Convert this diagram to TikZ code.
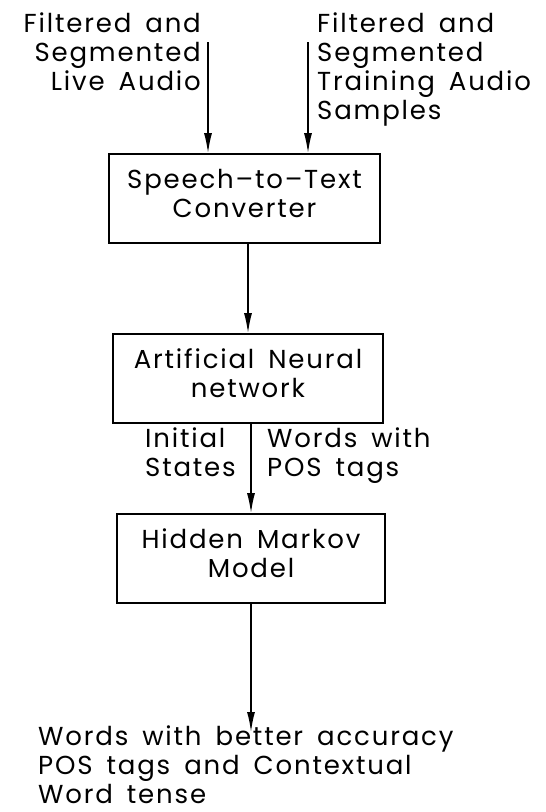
\documentclass[tikz,border=0pt]{standalone}
\usepackage{fontspec}
\setmainfont[WordSpace=1.6, LetterSpace=7]{Poppins}
\usetikzlibrary{arrows.meta}
\begin{document}
\begin{tikzpicture}[x=1pt,y=-1pt,
  every node/.style={inner sep=0pt, font=\fontsize{26}{29}\selectfont},
  stage/.style={draw, line width=1.6pt, align=center, text depth=10pt,
    minimum width=#1, minimum height=89pt},
  arr/.style={line width=1.6pt, -{Latex[length=20pt,width=8pt]}},
  lbl/.style={align=#1}]
  \useasboundingbox (0,0) rectangle (546,812);

  % processing stages
  \node[stage=271pt] (stt) at (244.5,198.5) {Speech–to–Text\\Converter};
  \node[stage=270pt] (ann) at (248,378.5) {Artificial Neural\\network};
  \node[stage=268pt] (hmm) at (251,558.5) {Hidden Markov\\Model};

  % inputs
  \node[lbl=right, anchor=north east] (live) at (201,13) {Filtered and\\Segmented\\Live Audio};
  \node[lbl=left, anchor=north west] (train) at (317,13) {Filtered and\\Segmented\\Training Audio\\Samples};
  \coordinate (liveS) at (208,42);
  \coordinate (trainS) at (308,42);

  % labels between ANN and HMM
  \node[lbl=left, anchor=north west] (init) at (145,428) {Initial\\States};
  \node[lbl=left, anchor=north west] (words) at (267,428) {Words with\\POS tags};

  % output
  \node[lbl=left, anchor=north west] (out) at (38,726) {Words with better accuracy\\POS tags and Contextual\\Word tense};

  % connectors
  \draw[arr] (liveS) -- (liveS |- stt.north);
  \draw[arr] (trainS) -- (trainS |- stt.north);
  \draw[arr] (stt.south -| ann.north) -- (ann.north);
  \draw[arr] (ann.south -| hmm.north) -- (hmm.north);
  \draw[arr] (hmm.south) -- ([yshift=-6pt]hmm.south |- out.north);
\end{tikzpicture}
\end{document}
